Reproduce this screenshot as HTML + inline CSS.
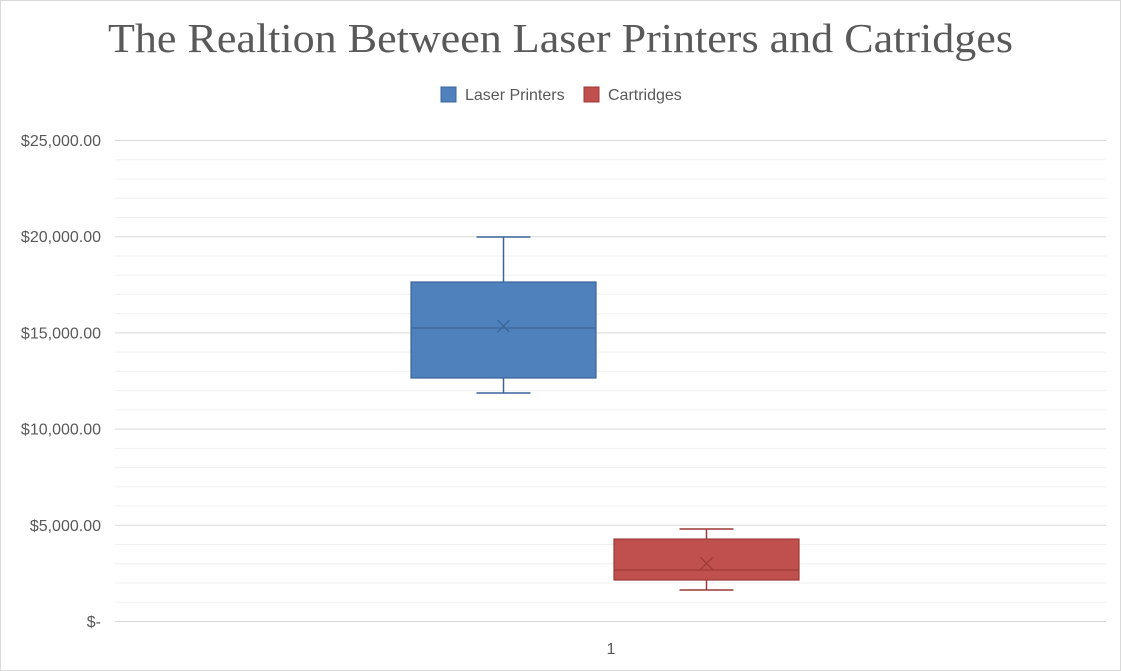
<!DOCTYPE html>
<html><head><meta charset="utf-8"><style>
body{margin:0;background:#fff;}
svg{display:block;font-family:"Liberation Sans",sans-serif;}
</style></head><body>
<svg id="chart" width="1121" height="671">
<rect x="0.5" y="0.5" width="1120" height="670" fill="#fff" stroke="#d9d9d9"/>
<text x="108" y="52" textLength="905" lengthAdjust="spacingAndGlyphs" font-family="Liberation Serif, serif" font-size="41" fill="#595959">The Realtion Between Laser Printers and Catridges</text>
<g>
<g><rect x="441" y="87" width="15" height="15" fill="#4f81bd" stroke="#3b6598"/><text x="465" y="100" font-size="16" fill="#595959">Laser Printers</text></g>
<g><rect x="584" y="87" width="15" height="15" fill="#c0504d" stroke="#9c3a37"/><text x="608" y="100" font-size="16" fill="#595959">Cartridges</text></g>
</g>
<g id="grid"></g><g id="yaxis"></g><g id="boxes"></g>
<line x1="115" y1="621.5" x2="1106" y2="621.5" stroke="#d9d9d9"/>
<text x="611" y="654" text-anchor="middle" font-size="16" fill="#595959">1</text>
</svg>
<script>
const yTicks=[0,5000,10000,15000,20000,25000];
const yTickLabels=["$-","$5,000.00","$10,000.00","$15,000.00","$20,000.00","$25,000.00"];
const series=["Laser Printers","Cartridges"];
const mins=[11850,1610];
const q1s=[12630,2130];
const medians=[15230,2650];
const q3s=[17620,4260];
const maxs=[19960,4780];
const means=[15330,2990];
const fills=["#4f81bd","#c0504d"];
const strokes=["#3b6598","#9c3a37"];
const NS="http://www.w3.org/2000/svg";
const y0=621,y1=140,vmax=25000;
const Y=v=>y0-(v/vmax)*(y0-y1);
function mk(t,a,p){const e=document.createElementNS(NS,t);for(const k in a)e.setAttribute(k,a[k]);p.appendChild(e);return e;}
const grid=document.getElementById('grid');
for(let v=1000;v<=vmax;v+=1000){
 const major=v%5000===0;
 const l=mk('line',{x1:115,x2:1106,y1:Y(v)+0.5,y2:Y(v)+0.5,stroke:major?'#d9d9d9':'#f0f0f0'},grid);
 
 
}
const ya=document.getElementById('yaxis');
yTicks.forEach((v,i)=>{
 const t=mk('text',{x:101,y:Y(v)+6,'text-anchor':'end','font-size':16,fill:'#595959'},ya);
 t.textContent=yTickLabels[i];
 
 
});
const bx=document.getElementById('boxes');
const bw=185;
series.forEach((s,i)=>{
 const cx=(i===0)?503.5:706.5;
 const g=mk('g',{},bx);
 
 
 const c=strokes[i];
 mk('line',{x1:cx,x2:cx,y1:Y(maxs[i]),y2:Y(q3s[i]),stroke:c,'stroke-width':1.5},g);
 mk('line',{x1:cx,x2:cx,y1:Y(q1s[i]),y2:Y(mins[i]),stroke:c,'stroke-width':1.5},g);
 mk('line',{x1:cx-27,x2:cx+27,y1:Y(maxs[i]),y2:Y(maxs[i]),stroke:c,'stroke-width':1.5},g);
 mk('line',{x1:cx-27,x2:cx+27,y1:Y(mins[i]),y2:Y(mins[i]),stroke:c,'stroke-width':1.5},g);
 mk('rect',{x:cx-bw/2,y:Y(q3s[i]),width:bw,height:Y(q1s[i])-Y(q3s[i]),fill:fills[i],stroke:c,'stroke-width':1.2},g);
 mk('line',{x1:cx-bw/2,x2:cx+bw/2,y1:Y(medians[i]),y2:Y(medians[i]),stroke:c,'stroke-width':1.2},g);
 const my=Y(means[i]);
 mk('path',{d:`M${cx-6},${my-6}L${cx+6},${my+6}M${cx+6},${my-6}L${cx-6},${my+6}`,stroke:c,'stroke-width':1.3,fill:'none'},g);
});
</script>
</body></html>
